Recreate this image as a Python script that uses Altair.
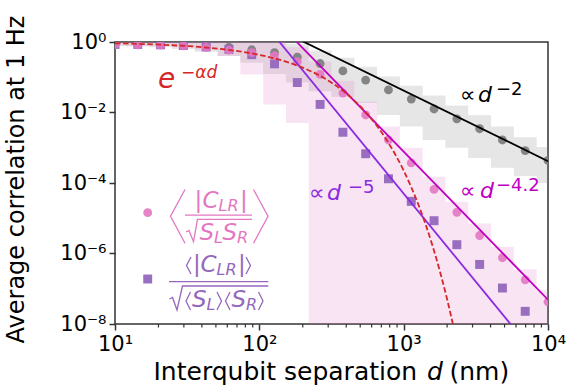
import altair as alt
import pandas as pd
import numpy as np

# ---------------- data ----------------
d_nm = [10.0, 14.38, 20.69, 29.76, 42.81, 61.58, 88.59, 127.4, 183.3, 263.7,
        379.3, 545.6, 784.8, 1129.0, 1624.0, 2336.0, 3360.0, 4833.0, 6952.0, 10000.0]

# log10 of the average correlation
grey_circ_log = [-0.04, -0.05, -0.06, -0.08, -0.105, -0.15, -0.22, -0.30, -0.43, -0.61,
                 -0.82, -1.08, -1.36, -1.62, -1.90, -2.18, -2.46, -2.78, -3.08, -3.36]
pink_circ_log = [-0.07, -0.08, -0.09, -0.11, -0.15, -0.23, -0.30, -0.39, -0.56, -0.92,
                 -1.45, -2.07, -2.78, -3.43, -4.18, -4.83, -5.49, -6.12, -6.75, -7.37]
purple_sq_log = [-0.07, -0.07, -0.08, -0.10, -0.14, -0.21, -0.36, -0.62, -1.15, -1.77,
                 -2.56, -3.17, -3.88, -4.52, -5.07, -5.75, -6.31, -6.98, -7.64, -8.40]

grey_band_hi_log = [0.1, 0.1, 0.1, 0.1, 0.1, 0.1, 0.1, 0.1, -0.05, -0.25,
                    -0.45, -0.70, -0.98, -1.24, -1.52, -1.80, -2.08, -2.40, -2.70, -2.98]
grey_band_lo_log = [-0.12, -0.13, -0.15, -0.20, -0.28, -0.40, -0.59, -0.91, -1.15, -1.40,
                    -1.55, -1.73, -2.07, -2.40, -2.78, -3.00, -3.29, -3.57, -3.80, -4.00]
pink_band_hi_log = [0.1, 0.1, 0.1, 0.1, 0.1, 0.1, 0.1, 0.1, -0.15, -0.55,
                    -1.10, -1.69, -2.40, -3.00, -3.82, -4.53, -5.15, -5.81, -6.45, -7.04]
pink_band_lo_log = [-0.10, -0.11, -0.12, -0.15, -0.22, -0.40, -0.92, -1.77, -2.30, -12,
                    -12, -12, -12, -12, -12, -12, -12, -12, -12, -12]

# fitted curves
fit_m2_d, fit_m2_c = [158.5, 10000.0], [1.66, 4.17e-4]        # ∝ d^-2
fit_m42_d, fit_m42_c = [158.5, 10000.0], [1.78, 4.9e-8]       # ∝ d^-4.2
fit_m5_d, fit_m5_c = [125.9, 6310.0], [1.58, 5.0e-9]          # ∝ d^-5
exp_d = [10, 15.85, 25.1, 39.8, 63.1, 100, 125.9, 158.5, 199.5, 251.2, 316.2, 398.1,
         501.2, 631.0, 794.3, 1000, 1122, 1259, 1413, 1585, 1778, 1995, 2239]
exp_log = [-0.036, -0.058, -0.092, -0.145, -0.230, -0.365, -0.459, -0.578, -0.728, -0.916,
           -1.154, -1.452, -1.828, -2.302, -2.898, -3.648, -4.093, -4.593, -5.154, -5.782,
           -6.487, -7.279, -8.168]

minor_ticks = [a * b for b in (10, 100, 1000) for a in range(2, 10)]

# ---------------- layout ----------------
W, H = 433, 282
L, T = 115, 42
XD = [10, 1e4]
YD = [1e-8, 1]

RED, BLACK, MAG, VIO = "#d62728", "#000000", "#bf00bf", "#8a2be2"
PINK, PURP, GREY = "#e377c2", "#9467bd", "#7f7f7f"
AX = "#333333"
FONT = "DejaVu Sans"


def px2d(px):
    return 10 ** (1 + (px - L) / W * 3)


def py2c(py):
    return 10 ** (-(py - T) / H * 8)


xs = alt.Scale(type="log", domain=XD, nice=False)
ys = alt.Scale(type="log", domain=YD, nice=False)

xaxis = alt.Axis(values=[10, 100, 1000, 10000],
                 labelExpr="datum.value == 10 ? '10¹' : datum.value == 100 ? '10²' : datum.value == 1000 ? '10³' : '10⁴'",
                 title=None,
                 labelFont=FONT, labelFontSize=21, labelColor="black", labelPadding=3,
                 tickSize=6, tickWidth=1.5, tickColor=AX, domain=False, grid=False, labelFlush=False)
yaxis = alt.Axis(values=[1, 1e-2, 1e-4, 1e-6, 1e-8],
                 labelExpr="datum.value > 0.5 ? '10⁰' : datum.value > 0.005 ? '10⁻²' : datum.value > 5e-5 ? '10⁻⁴' : datum.value > 5e-7 ? '10⁻⁶' : '10⁻⁸'",
                 title="Average correlation at 1 Hz", titleFontSize=24, titleFontWeight="normal",
                 titleFont=FONT, titleX=-92, titleY=H / 2 - 4, titleAngle=-90, titleAlign="center",
                 titleBaseline="alphabetic", titleColor="black",
                 labelFont=FONT, labelFontSize=21, labelColor="black", labelPadding=3,
                 tickSize=6, tickWidth=1.5, tickColor=AX, domain=False, grid=False, labelFlush=False)

X = alt.X("x:Q", scale=xs, axis=xaxis)
Y = alt.Y("y:Q", scale=ys, axis=yaxis)

band_df = pd.DataFrame({
    "x": d_nm,
    "gy": [10 ** v for v in grey_band_lo_log], "gy2": [10 ** v for v in grey_band_hi_log],
    "py": [10 ** v for v in pink_band_lo_log], "py2": [10 ** v for v in pink_band_hi_log],
})
grey_band = alt.Chart(band_df).mark_area(interpolate="step", color="#808080", opacity=0.2, clip=True).encode(
    x=X, y=alt.Y("gy:Q", scale=ys, axis=yaxis), y2="gy2:Q")
pink_band = alt.Chart(band_df).mark_area(interpolate="step", color=PINK, opacity=0.2, clip=True).encode(
    x=X, y=alt.Y("py:Q", scale=ys, axis=yaxis), y2="py2:Q")

grey_pts = alt.Chart(pd.DataFrame({"x": d_nm, "y": [10 ** v for v in grey_circ_log]})).mark_circle(
    size=78, color=GREY, opacity=0.95, clip=True).encode(x=X, y=Y)
sq_pts = alt.Chart(pd.DataFrame({"x": d_nm, "y": [10 ** v for v in purple_sq_log]})).mark_square(
    size=80, color=PURP, opacity=0.95, clip=True).encode(x=X, y=Y)
pink_pts = alt.Chart(pd.DataFrame({"x": d_nm, "y": [10 ** v for v in pink_circ_log]})).mark_circle(
    size=78, color=PINK, opacity=0.9, clip=True).encode(x=X, y=Y)


def fit_line(dv, cv, color, dash=None, width=1.8):
    kw = dict(color=color, strokeWidth=width, clip=True)
    if dash:
        kw["strokeDash"] = dash
    return alt.Chart(pd.DataFrame({"x": dv, "y": cv})).mark_line(
        interpolate="monotone", **kw).encode(x=X, y=Y, order="x:Q")


l_black = fit_line(fit_m2_d, fit_m2_c, BLACK)
l_mag = fit_line(fit_m42_d, fit_m42_c, MAG)
l_vio = fit_line(fit_m5_d, fit_m5_c, VIO)
l_exp = fit_line(exp_d, [10 ** v for v in exp_log], RED, dash=[5.5, 2.6], width=1.8)

minor = alt.Chart(pd.DataFrame({"x": minor_ticks})).mark_rule(color=AX, strokeWidth=1.2).encode(
    x=X, y=alt.value(H), y2=alt.value(H + 3.5))

# ---------------- annotations (page pixel positions -> data coords) ----------------
upright = [
    ("∝", 460, 101.7, 22, BLACK), ("−2", 496, 94.5, 18, BLACK),
    ("∝", 309, 200, 22, VIO), ("−5", 348, 192.5, 18, VIO),
    ("∝", 460, 198.3, 22, MAG), ("−4.2", 496, 191, 18, MAG),
    ("|", 194.5, 208.3, 23, PINK), ("|", 240, 208.3, 23, PINK),
    ("|", 193, 271.7, 23, PURP), ("|", 238, 271.7, 23, PURP),
    ("Interqubit separation", 153.5, 380, 25, BLACK), ("(nm)", 449.5, 380, 25, BLACK),
]
italic = [
    ("e", 158, 88, 28, RED), ("−αd", 181, 78, 17, RED),
    ("d", 478, 101.7, 22, BLACK), ("d", 327, 200, 22, VIO), ("d", 480, 198.3, 22, MAG),
    ("C", 202.5, 208.3, 23, PINK), ("LR", 218.5, 211, 16, PINK),
    ("S", 199.5, 240, 23, PINK), ("L", 214, 243, 16, PINK),
    ("S", 222.5, 240, 23, PINK), ("R", 237, 243, 16, PINK),
    ("C", 200.5, 271.7, 23, PURP), ("LR", 216.5, 274.5, 16, PURP),
    ("S", 192, 306.7, 23, PURP), ("L", 206.5, 309.5, 16, PURP),
    ("S", 231.5, 306.7, 23, PURP), ("R", 246, 309.5, 16, PURP),
    ("d", 427, 380, 25, BLACK),
]


def txt_df(items):
    return pd.DataFrame({"t": [i[0] for i in items], "x": [px2d(i[1]) for i in items],
                         "y": [py2c(i[2]) for i in items], "s": [i[3] for i in items],
                         "c": [i[4] for i in items]})


def txt_layer(items, style):
    return alt.Chart(txt_df(items)).mark_text(align="left", baseline="alphabetic", font=FONT,
                                              fontStyle=style).encode(
        x=X, y=Y, text="t:N", size=alt.Size("s:Q", scale=None),
        color=alt.Color("c:N", scale=None))


polys = {
    ("p_lb", PINK): [(185, 189.5), (170.5, 216.3), (185, 243.3)],
    ("p_rb", PINK): [(253.5, 189.5), (268, 216.3), (253.5, 243.3)],
    ("p_bar", PINK): [(185, 215.2), (252, 215.2)],
    ("p_rad", PINK): [(186, 232), (189, 230.5), (193.5, 241.7), (197.5, 219.3), (252, 219.3)],
    ("q_lb", PURP): [(191, 257), (186.5, 265.5), (191, 274)],
    ("q_rb", PURP): [(246, 257), (250.5, 265.5), (246, 274)],
    ("q_bar", PURP): [(169, 281.7), (268.3, 281.7)],
    ("q_rad", PURP): [(169.5, 299), (172.5, 297.5), (177, 310), (182.5, 286), (268.3, 286)],
    ("q_lb1", PURP): [(190.5, 292), (186, 301), (190.5, 310)],
    ("q_rb1", PURP): [(217, 292), (221.5, 301), (217, 310)],
    ("q_lb2", PURP): [(230, 292), (225.5, 301), (230, 310)],
    ("q_rb2", PURP): [(258.5, 292), (263, 301), (258.5, 310)],
}
rows = []
for (g, c), pts in polys.items():
    for i, (px, py) in enumerate(pts):
        rows.append({"g": g, "o": i, "x": px2d(px), "y": py2c(py), "c": c})
glyphs = alt.Chart(pd.DataFrame(rows)).mark_line(strokeWidth=1.3).encode(
    x=X, y=Y, detail="g:N", order="o:Q", color=alt.Color("c:N", scale=None))

leg_c = alt.Chart(pd.DataFrame({"x": [px2d(147.7)], "y": [py2c(212.7)]})).mark_circle(
    size=78, color=PINK, opacity=0.9).encode(x=X, y=Y)
leg_s = alt.Chart(pd.DataFrame({"x": [px2d(147.7)], "y": [py2c(279)]})).mark_square(
    size=80, color=PURP, opacity=0.95).encode(x=X, y=Y)

chart = alt.layer(
    grey_band, pink_band, grey_pts, sq_pts, pink_pts,
    l_black, l_mag, l_vio, l_exp, minor,
    txt_layer(upright, "normal"), txt_layer(italic, "italic"), glyphs, leg_c, leg_s,
).properties(
    width=W, height=H, autosize=alt.AutoSizeParams(type="none"),
    padding={"left": L, "top": T, "right": 579 - L - W, "bottom": 388 - T - H},
).configure_view(stroke=AX, strokeWidth=1.5)

chart.save("out.html", embed_options={"renderer": "svg", "actions": False})
